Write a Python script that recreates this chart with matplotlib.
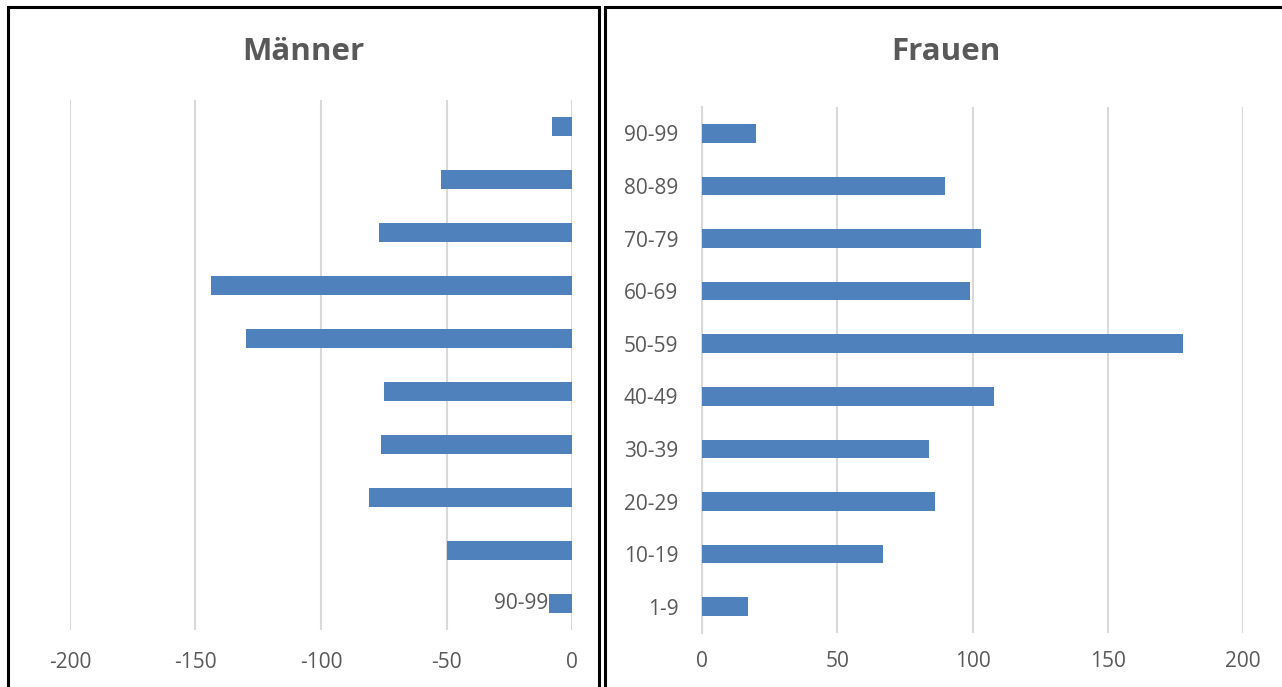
import matplotlib
matplotlib.use("Agg")
import matplotlib.pyplot as plt
from matplotlib.patches import Rectangle

# Data
categories = ["1-9", "10-19", "20-29", "30-39", "40-49", "50-59", "60-69", "70-79", "80-89", "90-99"]
# Left chart (Männer): bottom-to-top order is reversed (90-99 at bottom)
maenner_cats = ["90-99", "80-89", "70-79", "60-69", "50-59", "40-49", "30-39", "20-29", "10-19", "1-9"]
maenner_vals = [-9, -50, -81, -76, -75, -130, -144, -77, -52, -8]
frauen_vals = [17, 67, 86, 84, 108, 178, 99, 103, 90, 20]
maenner_ticks = [-200, -150, -100, -50, 0]
frauen_ticks = [0, 50, 100, 150, 200]

plt.rcParams['font.family'] = ['Open Sans', 'DejaVu Sans']
W, H = 1282, 687
fig = plt.figure(figsize=(W / 100, H / 100), dpi=100)

BAR = "#4F81BD"
GRID = "#D9D9D9"
TXT = "#595959"
FS = 15

def fx(px):
    return px / W

def fy(py):
    return 1 - py / H

# Panel borders
fig.patches.append(Rectangle((fx(8), fy(700)), fx(591), (700 - 7) / H, transform=fig.transFigure,
                             fill=False, edgecolor="black", linewidth=2.2, zorder=10))
fig.patches.append(Rectangle((fx(605), fy(700)), fx(700), (700 - 7) / H, transform=fig.transFigure,
                             fill=False, edgecolor="black", linewidth=2.2, zorder=10))

axL = fig.add_axes([fx(70), fy(630), fx(572 - 70), (630 - 100) / H])
axR = fig.add_axes([fx(702), fy(633), fx(1243 - 702), (633 - 107) / H])

bh = 0.35
ypos = list(range(len(categories)))

# Left
axL.barh(ypos, maenner_vals, height=bh, color=BAR, zorder=3)
axL.set_xlim(-200, 0)
axL.set_ylim(-0.5, 9.5)
axL.set_xticks(maenner_ticks)
axL.set_xticklabels([str(t) for t in maenner_ticks])
axL.set_yticks([])
axL.grid(axis='x', color=GRID, linewidth=1.5, zorder=0)
axL.text(-9.5, 0, maenner_cats[0], ha='right', va='center', fontsize=FS, color=TXT, zorder=4)

# Right
axR.barh(ypos, frauen_vals, height=bh, color=BAR, zorder=3)
axR.set_xlim(0, 200)
axR.set_ylim(-0.5, 9.5)
axR.set_xticks(frauen_ticks)
axR.set_yticks(ypos)
axR.set_yticklabels(categories)
axR.grid(axis='x', color=GRID, linewidth=1.5, zorder=0)

for ax, pad in ((axL, 16), (axR, 13)):
    for s in ax.spines.values():
        s.set_visible(False)
    ax.tick_params(axis='both', length=0, labelsize=FS, labelcolor=TXT)
    ax.tick_params(axis='x', pad=pad)
    ax.tick_params(axis='y', pad=17)
    ax.set_facecolor('none')
axR.spines['left'].set_visible(True)
axR.spines['left'].set_color(GRID)
axR.spines['left'].set_linewidth(1.5)

fig.text(fx(303), fy(52), "Männer", ha='center', va='center', fontsize=22.5, fontweight='bold', color=TXT)
fig.text(fx(946), fy(52), "Frauen", ha='center', va='center', fontsize=22.5, fontweight='bold', color=TXT)

fig.savefig("out.png", dpi=100)
